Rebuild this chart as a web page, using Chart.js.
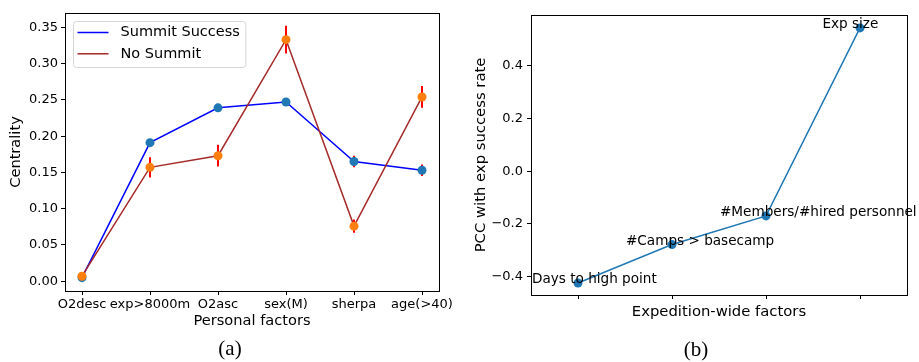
<!doctype html>
<html lang="en">

<head>
    <meta charset="utf-8">
    <title>Centrality and PCC</title>
    <script src="https://cdn.jsdelivr.net/npm/chart.js"></script>
    <style>
        body {
            margin: 0;
            background: #ffffff;
            width: 919px;
            height: 362px;
            position: relative;
            overflow: hidden;
        }

        canvas {
            position: absolute;
            top: 0;
        }

        .caption {
            position: absolute;
            font-family: "Liberation Serif", serif;
            font-size: 21px;
            color: #000;
            transform: translate(-50%, -50%);
        }
    </style>
</head>

<body>

    <canvas id="chartA" width="460" height="340" style="left: 0;"></canvas>
    <canvas id="chartB" width="459" height="340" style="left: 460px;"></canvas>
    <div class="caption" style="left: 230px; top: 348px;">(a)</div>
    <div class="caption" style="left: 696px; top: 349px;">(b)</div>

    <script>
        // (a) personal factors
        const personalFactors = ['O2desc', 'exp>8000m', 'O2asc', 'sex(M)', 'sherpa', 'age(>40)'];
        const summitCentrality = [0.005, 0.191, 0.239, 0.247, 0.165, 0.153];
        const summitErr = [0.002, 0.005, 0.003, 0.002, 0.008, 0.008];
        const noSummitCentrality = [0.007, 0.157, 0.173, 0.333, 0.076, 0.254];
        const noSummitErr = [0.003, 0.014, 0.015, 0.019, 0.009, 0.015];
        const centralityTicks = [0, 0.05, 0.10, 0.15, 0.20, 0.25, 0.30, 0.35];

        // (b) expedition-wide factors
        const expFactors = ['Days to high point', '#Camps > basecamp', '#Members/#hired personnel', 'Exp size'];
        const pccValues = [-0.425, -0.279, -0.170, 0.544];
        const pccTicks = [-0.4, -0.2, 0.0, 0.2, 0.4];

        const FONT = "'DejaVu Sans', sans-serif";
        Chart.defaults.font.family = FONT;
        Chart.defaults.color = '#000';

        // box around the plot area, like matplotlib spines
        const framePlugin = {
            id: 'frame',
            afterDatasetsDraw(chart) {
                const { ctx, chartArea: a } = chart;
                ctx.save();
                ctx.strokeStyle = '#000';
                ctx.lineWidth = 1;
                ctx.strokeRect(Math.round(a.left) + 0.5, Math.round(a.top) + 0.5,
                    Math.round(a.right - a.left), Math.round(a.bottom - a.top));
                ctx.restore();
            }
        };

        const errorBarPlugin = {
            id: 'errorBars',
            beforeDatasetsDraw(chart) {
                const { ctx, scales: { x, y } } = chart;
                ctx.save();
                ctx.strokeStyle = '#ff0000';
                ctx.lineWidth = 2;
                chart.data.datasets.forEach(ds => {
                    ds.data.forEach((p, i) => {
                        const e = ds.errors[i];
                        const px = x.getPixelForValue(p.x);
                        ctx.beginPath();
                        ctx.moveTo(px, y.getPixelForValue(p.y - e));
                        ctx.lineTo(px, y.getPixelForValue(p.y + e));
                        ctx.stroke();
                    });
                });
                ctx.restore();
            }
        };

        const boxLegendPlugin = {
            id: 'boxLegend',
            afterDraw(chart) {
                const { ctx, chartArea: a } = chart;
                ctx.save();
                ctx.font = "14.5px " + FONT;
                const items = chart.data.datasets.map(d => ({ text: d.label, color: d.borderColor }));
                const textW = Math.max(...items.map(it => ctx.measureText(it.text).width));
                const bx = a.left + 8, by = a.top + 8;
                const bw = 47 + textW + 6, bh = 46;
                ctx.beginPath();
                ctx.roundRect(bx + 0.5, by + 0.5, bw, bh, 3);
                ctx.fillStyle = 'rgba(255,255,255,0.8)';
                ctx.fill();
                ctx.strokeStyle = '#d6d6d6';
                ctx.lineWidth = 1;
                ctx.stroke();
                items.forEach((it, i) => {
                    const yy = by + 11.5 + i * 21.3;
                    ctx.strokeStyle = it.color;
                    ctx.lineWidth = 1.5;
                    ctx.beginPath();
                    ctx.moveTo(bx + 4.5, yy);
                    ctx.lineTo(bx + 35.5, yy);
                    ctx.stroke();
                    ctx.fillStyle = '#000';
                    ctx.textBaseline = 'middle';
                    ctx.fillText(it.text, bx + 47.5, yy);
                });
                ctx.restore();
            }
        };

        new Chart(document.getElementById('chartA'), {
            type: 'line',
            data: {
                datasets: [{
                    label: 'Summit Success',
                    data: summitCentrality.map((v, i) => ({ x: i, y: v })),
                    errors: summitErr,
                    order: 2,
                    borderColor: '#0000ff',
                    borderWidth: 1.5,
                    pointBackgroundColor: '#1f77b4',
                    pointBorderWidth: 0,
                    pointRadius: 4.5,
                    tension: 0
                }, {
                    label: 'No Summit',
                    data: noSummitCentrality.map((v, i) => ({ x: i, y: v })),
                    errors: noSummitErr,
                    order: 1,
                    borderColor: '#a52a2a',
                    borderWidth: 1.5,
                    pointBackgroundColor: '#ff7f0e',
                    pointBorderWidth: 0,
                    pointRadius: 4.5,
                    tension: 0
                }]
            },
            options: {
                responsive: false,
                animation: false,
                events: [],
                layout: { padding: { left: 0, right: 21, top: 13, bottom: 0 } },
                plugins: { legend: { display: false }, tooltip: { enabled: false } },
                scales: {
                    x: {
                        type: 'linear',
                        min: -0.25,
                        max: 5.25,
                        afterBuildTicks: s => { s.ticks = personalFactors.map((_, i) => ({ value: i })); },
                        afterFit: s => { s.height = 49; },
                        ticks: {
                            autoSkip: false, maxRotation: 0, padding: 2,
                            font: { size: 13 },
                            callback: v => personalFactors[v]
                        },
                        grid: { drawOnChartArea: false, tickLength: 4, tickColor: '#000' },
                        border: { display: false },
                        title: { display: true, text: 'Personal factors', font: { size: 14.6 }, padding: { top: 0, bottom: 10.4 } }
                    },
                    y: {
                        min: -0.0134,
                        max: 0.3697,
                        afterBuildTicks: s => { s.ticks = centralityTicks.map(v => ({ value: v })); },
                        afterFit: s => { s.width = 65; },
                        ticks: { font: { size: 13 }, padding: 3, callback: v => v.toFixed(2) },
                        grid: { drawOnChartArea: false, tickLength: 4, tickColor: '#000' },
                        border: { display: false },
                        title: { display: true, text: 'Centrality', font: { size: 14.6 }, padding: { top: 7, bottom: 0 } }
                    }
                }
            },
            plugins: [errorBarPlugin, framePlugin, boxLegendPlugin]
        });

        // annotation text starts left of each point, baseline on the point
        const annotateOffset = [-0.49, -0.49, -0.49, -0.40];
        const annotatePlugin = {
            id: 'annotate',
            afterDatasetsDraw(chart) {
                const { ctx, scales: { x, y } } = chart;
                ctx.save();
                ctx.font = "13.6px " + FONT;
                ctx.fillStyle = '#000';
                ctx.textBaseline = 'alphabetic';
                expFactors.forEach((name, i) => {
                    ctx.fillText(name, x.getPixelForValue(i + annotateOffset[i]), y.getPixelForValue(pccValues[i]));
                });
                ctx.restore();
            }
        };

        new Chart(document.getElementById('chartB'), {
            type: 'line',
            data: {
                datasets: [{
                    label: 'PCC',
                    data: pccValues.map((v, i) => ({ x: i, y: v })),
                    borderColor: '#1f77b4',
                    borderWidth: 1.5,
                    pointBackgroundColor: '#1f77b4',
                    pointBorderWidth: 0,
                    pointRadius: 4.5,
                    tension: 0
                }]
            },
            options: {
                responsive: false,
                animation: false,
                events: [],
                layout: { padding: { left: 0, right: 12, top: 15, bottom: 0 } },
                plugins: { legend: { display: false }, tooltip: { enabled: false } },
                scales: {
                    x: {
                        type: 'linear',
                        min: -0.5,
                        max: 3.5,
                        afterBuildTicks: s => { s.ticks = expFactors.map((_, i) => ({ value: i })); },
                        afterFit: s => { s.height = 45; },
                        ticks: { display: true, font: { size: 13 }, callback: () => '' },
                        grid: { drawOnChartArea: false, tickLength: 4, tickColor: '#000' },
                        border: { display: false },
                        title: { display: true, text: 'Expedition-wide factors', font: { size: 14.8 }, padding: { top: 0, bottom: 18.8 } }
                    },
                    y: {
                        min: -0.4705,
                        max: 0.593,
                        afterBuildTicks: s => { s.ticks = pccTicks.map(v => ({ value: v })); },
                        afterFit: s => { s.width = 71; },
                        ticks: {
                            font: { size: 13 }, padding: 4,
                            callback: v => (v < 0 ? '\u2212' : '') + Math.abs(v).toFixed(1)
                        },
                        grid: { drawOnChartArea: false, tickLength: 4, tickColor: '#000' },
                        border: { display: false },
                        title: { display: true, text: 'PCC with exp success rate', font: { size: 14.8 }, padding: { top: 12.6, bottom: 0 } }
                    }
                }
            },
            plugins: [framePlugin, annotatePlugin]
        });
    </script>
</body>

</html>
